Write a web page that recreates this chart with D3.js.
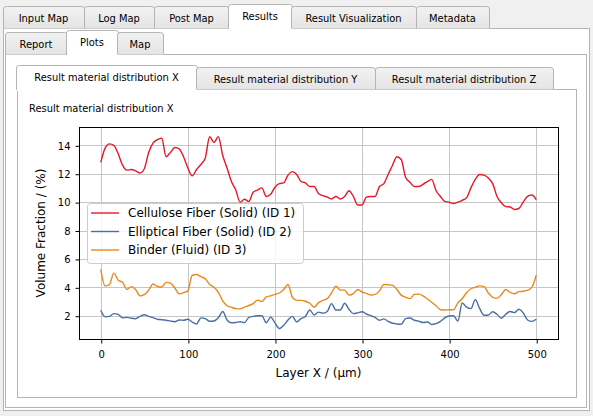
<!DOCTYPE html>
<html lang="en">
  <head>
    <meta charset="utf-8">
    <title>Result material distribution X</title>
    <script src="https://cdn.jsdelivr.net/npm/d3@7"></script>
    <style>
      body { margin: 0; background: #f0f0f0; }
      svg { display: block; }
      .ui { font-family: "DejaVu Sans Condensed", "DejaVu Sans", sans-serif; font-size: 11px; fill: #000; }
      .axis text { font-family: "DejaVu Sans", sans-serif; font-size: 10px; fill: #000; }
      .axis line { stroke: #000; }
    </style>
  </head>
  <body>
    <script>
      // layer positions (µm)
      var layerX = [0, 5, 10, 15, 20, 25, 30, 35, 40, 45,
                    50, 55, 60, 65, 70, 75, 80, 85, 90, 95,
                    100, 105, 110, 115, 120, 125, 130, 135, 140, 145,
                    150, 155, 160, 165, 170, 175, 180, 185, 190, 195,
                    200, 205, 210, 215, 220, 225, 230, 235, 240, 245,
                    250, 255, 260, 265, 270, 275, 280, 285, 290, 295,
                    300, 305, 310, 315, 320, 325, 330, 335, 340, 345,
                    350, 355, 360, 365, 370, 375, 380, 385, 390, 395,
                    400, 405, 410, 415, 420, 425, 430, 435, 440, 445,
                    450, 455, 460, 465, 470, 475, 480, 485, 490, 495,
                    500];

      var cellulose = [12.8, 13.8, 14.1, 14.0, 13.4, 12.6, 12.25, 12.3, 12.2, 12.05,
                       12.35, 13.5, 14.15, 14.4, 14.5, 13.2, 13.5, 13.85, 13.75, 13.2,
                       12.4, 11.85, 12.3, 12.65, 13.1, 14.6, 14.2, 14.6, 13.3, 12.4,
                       11.45, 10.85, 10.0, 10.2, 10.05, 10.7, 10.85, 11.0, 10.4, 10.55,
                       11.05, 11.3, 11.35, 11.9, 12.15, 11.95, 11.45, 11.35, 11.1, 11.1,
                       10.6, 10.45, 10.35, 10.22, 10.4, 10.22, 10.4, 10.8, 10.4, 9.8,
                       9.8, 10.35, 10.4, 10.4, 11.1, 11.3, 11.95, 12.6, 13.2, 13.0,
                       11.75, 11.4, 11.1, 11.1, 11.25, 11.45, 11.6, 10.8, 10.4, 10.05,
                       10.0, 9.9, 10.0, 10.13, 10.3, 11.0, 11.6, 11.95, 11.9, 11.7,
                       11.3, 10.4, 9.95, 9.68, 9.66, 9.48, 9.55, 10.0, 10.4, 10.5,
                       10.17];

      var elliptical = [2.38, 1.92, 1.95, 2.15, 2.1, 1.85, 1.88, 1.82, 1.79, 1.95,
                        2.07, 1.95, 1.86, 1.75, 1.72, 1.68, 1.62, 1.58, 1.7, 1.68,
                        1.75, 1.55, 1.42, 1.85, 1.8, 1.61, 1.63, 1.85, 2.3, 1.7,
                        1.5, 1.52, 1.58, 1.51, 1.88, 1.95, 2.0, 2.0, 1.5, 1.9,
                        1.5, 1.1, 1.32, 1.7, 1.95, 1.56, 1.8, 1.95, 2.4, 2.05,
                        2.25, 2.18, 2.3, 2.85, 2.4, 2.4, 2.88, 2.45, 2.15, 2.2,
                        2.28, 2.12, 2.0, 1.88, 1.68, 1.78, 1.6, 1.47, 1.42, 1.4,
                        1.8, 1.84, 1.68, 1.62, 1.52, 1.56, 1.38, 1.44, 1.6, 1.85,
                        1.98, 2.0, 1.62, 2.9, 2.6, 2.5, 3.12, 2.52, 2.03, 2.05,
                        2.28, 2.1, 1.82, 2.1, 2.3, 2.22, 2.45, 2.2, 1.7, 1.6,
                        1.75];

      var binder = [5.27, 4.1, 4.2, 5.0, 4.5, 4.35, 3.85, 4.05, 3.85, 3.4,
                    3.48, 3.8, 4.23, 4.06, 4.02, 4.35, 4.3, 3.95, 3.55, 3.62,
                    3.75, 4.85, 4.9, 4.75, 4.6, 4.2, 4.0, 3.65, 3.05, 2.7,
                    2.6, 2.5, 2.48, 2.6, 2.72, 2.85, 3.1, 3.0, 3.32, 3.4,
                    3.5, 3.6, 3.85, 4.2, 3.3, 3.08, 3.08, 3.02, 2.88, 2.6,
                    2.92, 3.08, 3.2, 3.6, 4.08, 3.8, 3.8, 3.45, 3.55, 3.85,
                    3.67, 3.57, 3.46, 3.5, 3.75, 4.2, 4.18, 4.14, 3.85, 3.45,
                    3.3, 3.2, 3.5, 3.52, 3.4, 3.18, 2.95, 2.7, 2.42, 2.4,
                    2.42, 2.42, 2.9, 3.2, 3.62, 3.9, 4.0, 4.1, 4.05, 3.6,
                    3.3, 3.22, 3.5, 3.85, 3.65, 3.55, 3.7, 3.72, 3.8, 4.0,
                    4.85];

      var seriesNames = ["Cellulose Fiber (Solid) (ID 1)", "Elliptical Fiber (Solid) (ID 2)", "Binder (Fluid) (ID 3)"];
      var seriesColors = ["#e8172a", "#4a6ea6", "#e8891e"];
      var xTicks = [0, 100, 200, 300, 400, 500];
      var yTicks = [2, 4, 6, 8, 10, 12, 14];

      var topTabs = ["Input Map", "Log Map", "Post Map", "Results", "Result Visualization", "Metadata"];
      var subTabs = ["Report", "Plots", "Map"];
      var plotTabs = ["Result material distribution X", "Result material distribution Y", "Result material distribution Z"];

      var w = 593;
      var h = 416;
      var border = "#b4b4b4";

      var svg = d3.select("body").append("svg")
                  .attr("width", w)
                  .attr("height", h);

      var defs = svg.append("defs");
      var grad = defs.append("linearGradient")
                     .attr("id", "tabgrad")
                     .attr("x1", 0).attr("y1", 0).attr("x2", 0).attr("y2", 1);
      grad.append("stop").attr("offset", "0%").attr("stop-color", "#f2f2f2");
      grad.append("stop").attr("offset", "100%").attr("stop-color", "#e4e4e4");

      var pane = function (x0, y0, x1, y1) {
        svg.append("rect")
           .attr("x", x0 + 0.5).attr("y", y0 + 0.5)
           .attr("width", x1 - x0).attr("height", y1 - y0)
           .attr("fill", "#fff")
           .attr("stroke", border);
      };

      var tabRow = function (labels, edges, selected, paneTop) {
        labels.forEach(function (label, i) {
          var sel = i === selected;
          var x0 = edges[i] + 0.5, x1 = edges[i + 1] + 0.5;
          var top = sel ? paneTop - 24 : paneTop - 22;
          if (sel) { x0 -= 1; x1 += 1; }
          var bottom = sel ? paneTop + 1 : paneTop + 0.5;
          var g = svg.append("g");
          g.append("path")
           .attr("d", "M" + x0 + "," + bottom + "V" + (top + 3) +
                      "Q" + x0 + "," + (top + 0.5) + " " + (x0 + 3) + "," + (top + 0.5) +
                      "H" + (x1 - 3) +
                      "Q" + x1 + "," + (top + 0.5) + " " + x1 + "," + (top + 3) +
                      "V" + bottom)
           .attr("fill", sel ? "#fff" : "url(#tabgrad)")
           .attr("stroke", border);
          if (sel) {
            g.append("rect")
             .attr("x", x0 + 0.5).attr("y", paneTop - 1)
             .attr("width", x1 - x0 - 1).attr("height", 3)
             .attr("fill", "#fff");
          }
          g.append("text")
           .attr("class", "ui")
           .attr("x", (edges[i] + edges[i + 1]) / 2)
           .attr("y", top + 16)
           .attr("text-anchor", "middle")
           .text(label);
        });
      };

      // nested tab widgets
      pane(3, 28, 589, 410);
      tabRow(topTabs, [3, 84, 154, 229, 291, 416, 489], 3, 28);
      pane(5, 54, 586, 407);
      tabRow(subTabs, [5, 67, 117, 163], 1, 54);
      pane(17, 89, 576, 397);
      tabRow(plotTabs, [17, 196, 375, 553], 0, 89);

      svg.append("text")
         .attr("class", "ui")
         .attr("x", 29)
         .attr("y", 112)
         .text("Result material distribution X");

      // chart
      var xScale = d3.scaleLinear().domain([-25, 525]).range([79, 558]);
      var yScale = d3.scaleLinear().domain([0.36, 15.29]).range([339, 127]);

      var grid = svg.append("g").attr("transform", "translate(0.5,0.5)");
      grid.selectAll("line.gx")
          .data(xTicks)
          .enter()
          .append("line")
          .attr("x1", function (d) { return Math.round(xScale(d)); })
          .attr("x2", function (d) { return Math.round(xScale(d)); })
          .attr("y1", 127)
          .attr("y2", 339)
          .attr("stroke", "#c6c6c6");
      grid.selectAll("line.gy")
          .data(yTicks)
          .enter()
          .append("line")
          .attr("x1", 79)
          .attr("x2", 558)
          .attr("y1", function (d) { return Math.round(yScale(d)); })
          .attr("y2", function (d) { return Math.round(yScale(d)); })
          .attr("stroke", "#c6c6c6");

      var series = [cellulose, elliptical, binder];
      var line = d3.line()
                   .x(function (d, i) { return xScale(layerX[i]); })
                   .y(function (d) { return yScale(d); })
                   .curve(d3.curveMonotoneX);

      svg.append("g")
         .selectAll("path")
         .data(series)
         .enter()
         .append("path")
         .attr("d", line)
         .attr("fill", "none")
         .attr("stroke", function (d, i) { return seriesColors[i]; })
         .attr("stroke-width", 1.4)
         .attr("stroke-linejoin", "round");

      var xAxis = d3.axisBottom(xScale).tickValues(xTicks).tickSize(4).tickPadding(7);
      var yAxis = d3.axisLeft(yScale).tickValues(yTicks).tickSize(4).tickPadding(5);

      svg.append("g")
         .attr("class", "axis")
         .attr("transform", "translate(0.5,339.5)")
         .call(xAxis)
         .call(function (g) { g.select(".domain").remove(); });

      svg.append("g")
         .attr("class", "axis")
         .attr("transform", "translate(79.5,0.5)")
         .call(yAxis)
         .call(function (g) { g.select(".domain").remove(); });

      svg.append("rect")
         .attr("x", 79.5).attr("y", 127.5)
         .attr("width", 479).attr("height", 212)
         .attr("fill", "none")
         .attr("stroke", "#000")
         .attr("stroke-width", 1);

      svg.append("text")
         .attr("x", (79 + 558) / 2)
         .attr("y", 377)
         .attr("text-anchor", "middle")
         .attr("font-family", "DejaVu Sans")
         .attr("font-size", "12px")
         .text("Layer X / (\u00b5m)");

      svg.append("text")
         .attr("transform", "translate(45,233) rotate(-90)")
         .attr("text-anchor", "middle")
         .attr("font-family", "DejaVu Sans")
         .attr("font-size", "12px")
         .text("Volume Fraction / (%)");

      // legend
      var legend = svg.append("g");
      legend.append("rect")
            .attr("x", 87.5).attr("y", 203.5)
            .attr("width", 216).attr("height", 60)
            .attr("rx", 3)
            .attr("fill", "#fff")
            .attr("fill-opacity", 0.8)
            .attr("stroke", "#cccccc");
      var rows = legend.selectAll("g.row")
                       .data(seriesNames)
                       .enter()
                       .append("g")
                       .attr("transform", function (d, i) { return "translate(0," + (213 + i * 18.5) + ")"; });
      rows.append("line")
          .attr("x1", 91).attr("x2", 119)
          .attr("stroke", function (d, i) { return seriesColors[i]; })
          .attr("stroke-width", 1.4);
      rows.append("text")
          .attr("x", 128)
          .attr("y", 4.3)
          .attr("font-family", "DejaVu Sans")
          .attr("font-size", "12px")
          .text(function (d) { return d; });
    </script>
  </body>
</html>
